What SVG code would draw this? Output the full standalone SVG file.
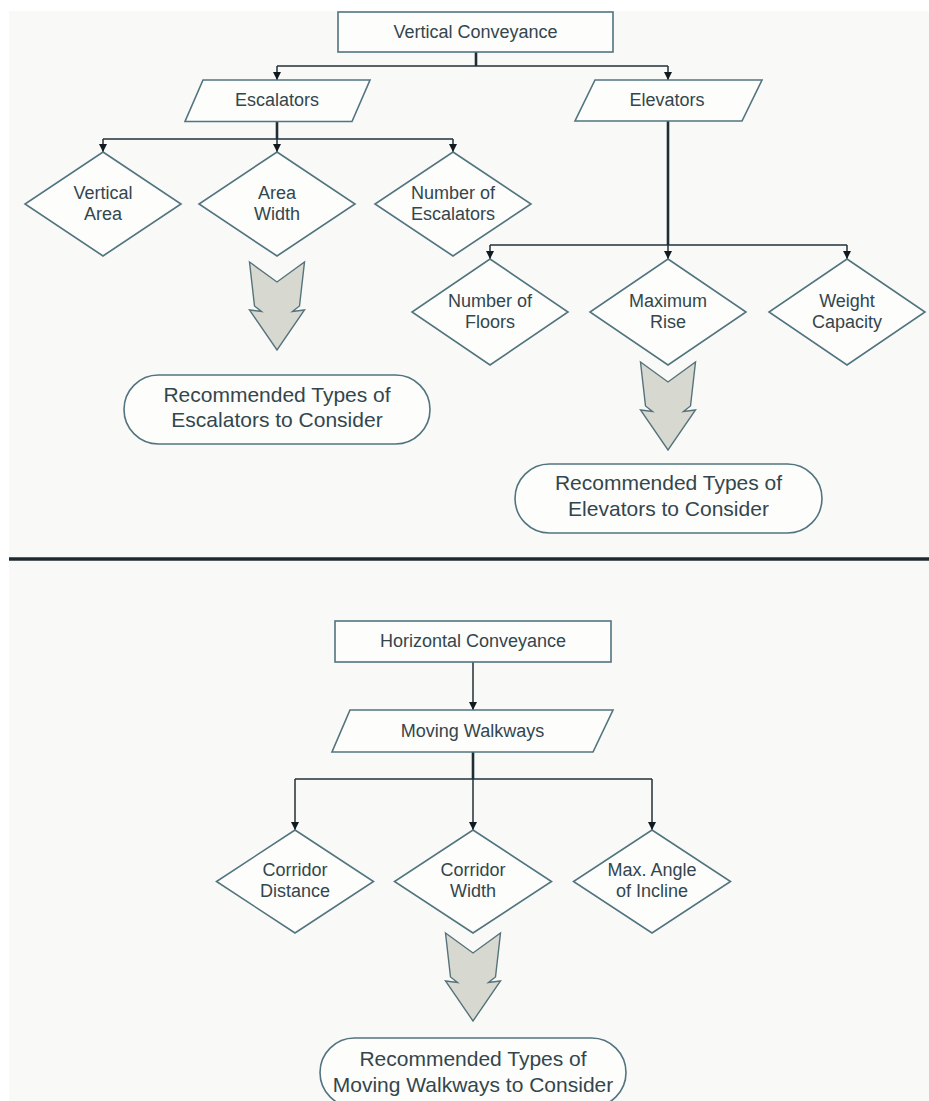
<svg xmlns="http://www.w3.org/2000/svg" width="929" height="1101" viewBox="0 0 929 1101">
<defs>
<style>
.shape{fill:#fdfdfc;stroke:#52747e;stroke-width:1.6}
.big{fill:#d7d9d1;stroke:#56727a;stroke-width:1.4}
.lbl{font-family:"Liberation Sans",Arial,sans-serif;font-size:18px;fill:#33464c;text-anchor:middle}
.rec{font-family:"Liberation Sans",Arial,sans-serif;font-size:21px;fill:#33464c;text-anchor:middle}
.ln{fill:none;stroke:#22313a;stroke-width:1.5}
.trunk{fill:none;stroke:#1f2d34;stroke-width:2.6}
.arr{fill:none;stroke:#22313a;stroke-width:1.5;marker-end:url(#ah)}
</style>
<marker id="ah" markerUnits="userSpaceOnUse" markerWidth="8" markerHeight="9" refX="8" refY="4" orient="auto">
<path d="M0,0 L8,4 L0,8 Z" fill="#111a1f"/>
</marker>
<path id="bigArrow" d="M-27.5,0 L0,20 L27.5,0 L22.5,44 L15.5,49.5 L27.5,48 L0,88 L-27.5,48 L-15.5,49.5 L-22.5,44 Z"/>
</defs>
<rect x="0" y="0" width="929" height="1101" fill="#ffffff"/>
<rect x="9" y="11" width="920" height="1090" fill="#f9faf8"/>

<g id="separator">
<line x1="9" y1="559" x2="929" y2="559" stroke="#1e2a2f" stroke-width="3.5"/>
</g>

<g id="connectors">
<path class="trunk" d="M476,52 V66"/>
<path class="ln" d="M277,66 H668" stroke-width="2"/>
<path class="arr" d="M277,66 V80"/>
<path class="arr" d="M668,66 V80"/>
<path class="trunk" d="M277,121.5 V139"/>
<path class="ln" d="M103,139 H453"/>
<path class="arr" d="M103,139 V152"/>
<path class="arr" d="M277,139 V152"/>
<path class="arr" d="M453,139 V152"/>
<path class="trunk" d="M668,121 V245"/>
<path class="ln" d="M490,245 H847"/>
<path class="arr" d="M490,245 V259"/>
<path class="arr" d="M668,245 V259"/>
<path class="arr" d="M847,245 V259"/>
<path class="arr" d="M473,662 V710"/>
<path class="trunk" d="M473,752 V779"/>
<path class="ln" d="M295,779 H652"/>
<path class="arr" d="M295,779 V830"/>
<path class="arr" d="M473,779 V830"/>
<path class="arr" d="M652,779 V830"/>
</g>

<g id="vertical-conveyance">
<rect class="shape" x="338" y="12" width="275" height="40"/>
<text class="lbl" x="475.5" y="37.5">Vertical Conveyance</text>
</g>
<g id="escalators">
<polygon class="shape" points="203,80 370,80 352,121.5 185,121.5"/>
<text class="lbl" x="277" y="106">Escalators</text>
</g>
<g id="elevators">
<polygon class="shape" points="595,80 762,80 742,121 575,121"/>
<text class="lbl" x="667" y="106">Elevators</text>
</g>

<g id="vertical-area">
<polygon class="shape" points="103,152 181,204 103,256 25,204"/>
<text class="lbl" x="103" y="198.5">Vertical</text>
<text class="lbl" x="103" y="219.5">Area</text>
</g>
<g id="area-width">
<polygon class="shape" points="277,152 355,204 277,256 199,204"/>
<text class="lbl" x="277" y="198.5">Area</text>
<text class="lbl" x="277" y="219.5">Width</text>
</g>
<g id="number-of-escalators">
<polygon class="shape" points="453,152 531,204 453,256 375,204"/>
<text class="lbl" x="453" y="198.5">Number of</text>
<text class="lbl" x="453" y="219.5">Escalators</text>
</g>

<g id="number-of-floors">
<polygon class="shape" points="490,259 568,312 490,365 412,312"/>
<text class="lbl" x="490" y="306.5">Number of</text>
<text class="lbl" x="490" y="327.5">Floors</text>
</g>
<g id="maximum-rise">
<polygon class="shape" points="668,259 746,312 668,365 590,312"/>
<text class="lbl" x="668" y="306.5">Maximum</text>
<text class="lbl" x="668" y="327.5">Rise</text>
</g>
<g id="weight-capacity">
<polygon class="shape" points="847,259 925,312 847,365 769,312"/>
<text class="lbl" x="847" y="306.5">Weight</text>
<text class="lbl" x="847" y="327.5">Capacity</text>
</g>

<g id="escalators-arrow">
<use href="#bigArrow" class="big" transform="translate(277,262)"/>
</g>
<g id="escalators-result">
<rect class="shape" x="124" y="375" width="306" height="69" rx="34.5"/>
<text class="rec" x="277" y="402">Recommended Types of</text>
<text class="rec" x="277" y="427">Escalators to Consider</text>
</g>

<g id="elevators-arrow">
<use href="#bigArrow" class="big" transform="translate(668,362)"/>
</g>
<g id="elevators-result">
<rect class="shape" x="515" y="464" width="307" height="69" rx="34.5"/>
<text class="rec" x="668.5" y="490">Recommended Types of</text>
<text class="rec" x="668.5" y="515.5">Elevators to Consider</text>
</g>

<g id="horizontal-conveyance">
<rect class="shape" x="335" y="621" width="276" height="41"/>
<text class="lbl" x="473" y="647">Horizontal Conveyance</text>
</g>
<g id="moving-walkways">
<polygon class="shape" points="350,710 613,710 593,752 332,752"/>
<text class="lbl" x="472.5" y="736.5">Moving Walkways</text>
</g>

<g id="corridor-distance">
<polygon class="shape" points="295,830 373.5,881.5 295,933 216.5,881.5"/>
<text class="lbl" x="295" y="876">Corridor</text>
<text class="lbl" x="295" y="897">Distance</text>
</g>
<g id="corridor-width">
<polygon class="shape" points="473,830 551.5,881.5 473,933 394.5,881.5"/>
<text class="lbl" x="473" y="876">Corridor</text>
<text class="lbl" x="473" y="897">Width</text>
</g>
<g id="max-angle-of-incline">
<polygon class="shape" points="652,830 730.5,881.5 652,933 573.5,881.5"/>
<text class="lbl" x="652" y="876">Max. Angle</text>
<text class="lbl" x="652" y="897">of Incline</text>
</g>

<g id="walkways-arrow">
<use href="#bigArrow" class="big" transform="translate(473,933)"/>
</g>
<g id="walkways-result">
<rect class="shape" x="320" y="1038" width="306" height="69" rx="34.5"/>
<text class="rec" x="473" y="1066">Recommended Types of</text>
<text class="rec" x="473" y="1092">Moving Walkways to Consider</text>
</g>
</svg>
